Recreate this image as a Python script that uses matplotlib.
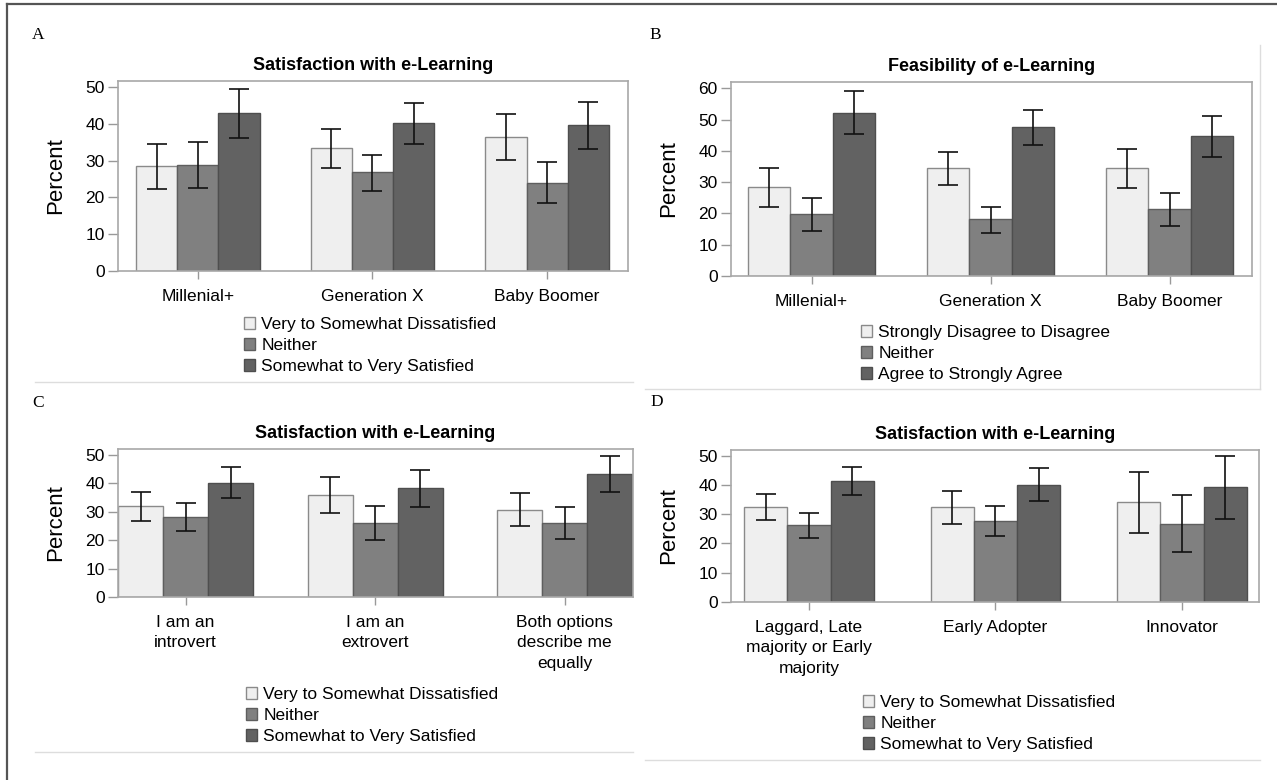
import matplotlib
matplotlib.use('Agg')
import matplotlib.pyplot as plt
from matplotlib.patches import Patch
from matplotlib.lines import Line2D
import numpy as np

W, H = 1277, 780

# panel A - satisfaction by generation
a_groups = ['Millenial+', 'Generation X', 'Baby Boomer']
a_vals = [[28.4, 33.3, 36.5], [28.9, 26.8, 24.0], [42.8, 40.1, 39.6]]
a_hi = [[34.5, 38.5, 42.7], [35.0, 31.6, 29.5], [49.5, 45.5, 46.0]]
a_lo = [[22.2, 27.9, 30.1], [22.6, 21.7, 18.4], [36.1, 34.5, 33.1]]

# panel B - feasibility by generation
b_groups = ['Millenial+', 'Generation X', 'Baby Boomer']
b_vals = [[28.3, 34.5, 34.4], [19.7, 18.1, 21.3], [52.2, 47.7, 44.7]]
b_hi = [[34.4, 39.7, 40.5], [25.0, 22.2, 26.5], [59.0, 53.2, 51.0]]
b_lo = [[22.1, 29.1, 28.2], [14.4, 13.8, 15.9], [45.3, 42.0, 38.1]]

# panel C - satisfaction by personality
c_groups = ['I am an\nintrovert', 'I am an\nextrovert', 'Both options\ndescribe me\nequally']
c_vals = [[32.0, 35.9, 30.8], [28.2, 26.0, 26.1], [40.3, 38.5, 43.4]]
c_hi = [[37.1, 42.4, 36.5], [33.0, 31.9, 31.7], [45.7, 44.8, 49.8]]
c_lo = [[26.7, 29.4, 24.9], [23.1, 20.0, 20.5], [34.9, 31.7, 37.0]]

# panel D - satisfaction by technology adoption
d_groups = ['Laggard, Late\nmajority or Early\nmajority', 'Early Adopter', 'Innovator']
d_vals = [[32.5, 32.3, 34.1], [26.3, 27.7, 26.8], [41.4, 40.1, 39.2]]
d_hi = [[37.0, 37.8, 44.5], [30.5, 32.9, 36.4], [46.2, 45.7, 49.7]]
d_lo = [[27.9, 26.8, 23.7], [21.8, 22.6, 17.1], [36.4, 34.4, 28.5]]

sat_labels = ['Very to Somewhat Dissatisfied', 'Neither', 'Somewhat to Very Satisfied']
feas_labels = ['Strongly Disagree to Disagree', 'Neither', 'Agree to Strongly Agree']

fills = ['#efefef', '#808080', '#626262']
edges = ['#8a8a8a', '#5e5e5e', '#4e4e4e']

plt.rcParams['font.family'] = ['Liberation Sans', 'DejaVu Sans']

fig = plt.figure(figsize=(W / 100, H / 100), dpi=100)


def rect(x0, y0, x1, y1):
    return [x0 / W, 1 - y1 / H, (x1 - x0) / W, (y1 - y0) / H]


def fx(x):
    return x / W


def fy(y):
    return 1 - y / H


def draw_panel(box, groups, vals, lo, hi, labels, title, ymax, yticks, xlim,
               bw, letter, letter_xy, leg_xy):
    ax = fig.add_axes(rect(*box))
    x = np.arange(len(groups))
    for i in range(3):
        pos = x + (i - 1) * bw
        v = np.array(vals[i])
        err = [v - np.array(lo[i]), np.array(hi[i]) - v]
        ax.bar(pos, v, width=bw, color=fills[i], edgecolor=edges[i],
               linewidth=1.0, label=labels[i], zorder=2)
        ax.errorbar(pos, v, yerr=err, fmt='none', ecolor='#111111',
                    elinewidth=1.2, capsize=7, capthick=1.2, zorder=3)
    ax.set_xlim(*xlim)
    ax.set_ylim(0, ymax)
    ax.set_yticks(yticks)
    ax.set_xticks(x)
    ax.set_xticklabels(groups, fontsize=12.5, linespacing=1.45)
    ax.tick_params(axis='y', labelsize=12.5, length=7.5, width=1, color='#999999', pad=2)
    ax.tick_params(axis='x', length=6, width=1, color='#999999', pad=7)
    for s in ax.spines.values():
        s.set_color('#a8a8a8')
        s.set_linewidth(1.2)
    ax.set_ylabel('Percent', fontsize=16)
    ax.yaxis.label.set_va('center')
    ax.yaxis.set_label_coords(-62 / (box[2] - box[0]), 0.5)
    ax.set_title(title, fontsize=13, fontweight='bold', pad=8)
    fig.text(fx(letter_xy[0]), fy(letter_xy[1]), letter, family='Liberation Serif',
             fontsize=12.5, ha='left', va='center')
    handles = [Patch(facecolor=fills[i], edgecolor=edges[i], linewidth=1.0) for i in range(3)]
    ax.legend(handles, labels, loc='upper left',
              bbox_to_anchor=(fx(leg_xy[0]), fy(leg_xy[1] - 8)),
              bbox_transform=fig.transFigure, frameon=False, fontsize=12.5,
              handlelength=0.65, handleheight=0.65, handletextpad=0.35,
              labelspacing=0.34, borderpad=0, borderaxespad=0)
    return ax


draw_panel((118, 81, 628, 271), a_groups, a_vals, a_lo, a_hi, sat_labels,
           'Satisfaction with e-Learning', 51.6, range(0, 51, 10), (-0.457, 2.463),
           0.236, 'A', (32, 35), (244, 325))
draw_panel((731, 82, 1252, 276), b_groups, b_vals, b_lo, b_hi, feas_labels,
           'Feasibility of e-Learning', 62.0, range(0, 61, 10), (-0.45, 2.46),
           0.237, 'B', (649, 35), (861, 333))
draw_panel((118, 449, 633, 597), c_groups, c_vals, c_lo, c_hi, sat_labels,
           'Satisfaction with e-Learning', 52.1, range(0, 51, 10), (-0.357, 2.36),
           0.237, 'C', (32, 403), (246, 695))
draw_panel((731, 450, 1259, 602), d_groups, d_vals, d_lo, d_hi, sat_labels,
           'Satisfaction with e-Learning', 51.9, range(0, 51, 10), (-0.418, 2.413),
           0.232, 'D', (650, 402), (863, 703))

# outer frame and panel separators
lines = [
    ((7, 7), (4, 780), '#555555', 1.6),
    ((7, 1277), (4, 4), '#555555', 1.6),
    ((35, 633), (382, 382), '#dddddd', 1.0),
    ((645, 1260), (389, 389), '#dddddd', 1.0),
    ((1260, 1260), (45, 389), '#dddddd', 1.0),
    ((35, 633), (752, 752), '#dddddd', 1.0),
    ((645, 1260), (760, 760), '#dddddd', 1.0),
]
for xs, ys, col, lw in lines:
    fig.add_artist(Line2D([fx(v) for v in xs], [fy(v) for v in ys],
                          color=col, linewidth=lw, transform=fig.transFigure))

fig.savefig('out.png', dpi=100)
